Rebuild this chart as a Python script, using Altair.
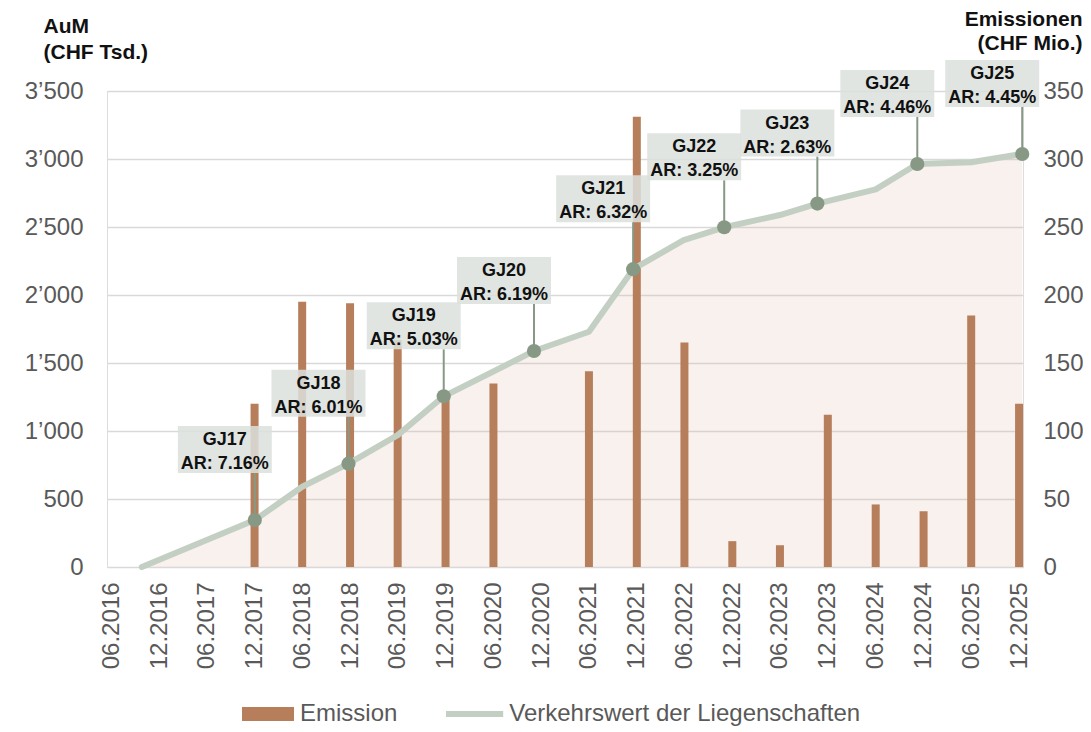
import altair as alt
import pandas as pd

# ---------------- data ----------------
periods = ["06.2016", "12.2016", "06.2017", "12.2017", "06.2018", "12.2018",
           "06.2019", "12.2019", "06.2020", "12.2020", "06.2021", "12.2021",
           "06.2022", "12.2022", "06.2023", "12.2023", "06.2024", "12.2024",
           "06.2025", "12.2025"]
emission = [None, None, None, 120, 195, 194, 167, 125, 135, None, 144, 331,
            165, 19, 16, 112, 46, 41, 185, 120]          # CHF Mio.

aum_dates = ["2016-10-10", "2017-12-16", "2018-06-15", "2018-12-09", "2019-06-15",
             "2019-12-08", "2020-11-17", "2021-06-15", "2021-12-01", "2022-06-12",
             "2022-11-14", "2023-06-15", "2023-11-05", "2024-06-15", "2024-11-21",
             "2025-06-15", "2025-12-27"]
aum = [0, 345, 590, 760, 970, 1255, 1588, 1730, 2190, 2404, 2498, 2588, 2672,
       2777, 2963, 2976, 3037]                          # CHF Tsd.
fy = [None, "GJ17", None, "GJ18", None, "GJ19", "GJ20", None, "GJ21", None,
      "GJ22", None, "GJ23", None, "GJ24", None, "GJ25"]
ar = [None, "7.16%", None, "6.01%", None, "5.03%", "6.19%", None, "6.32%", None,
      "3.25%", None, "2.63%", None, "4.46%", None, "4.45%"]

series_bar = "Emission"
series_line = "Verkehrswert der Liegenschaften"

# ---------------- styling ----------------
FONT = "Liberation Sans"
BAR = "#B67E5A"
LINE = "#C4CFC3"
MARK = "#879985"
AREA = "#D9B4A0"
BOX = "#DCE0DD"
GRID = "#D9D9D9"
LABEL = "#595959"


def period_to_date(p):
    m, y = p.split(".")
    return f"{y}-{m}-15T00:00:00"


bars_df = pd.DataFrame({
    "date": [period_to_date(p) for p in periods],
    "emission": emission,
    "series": series_bar,
}).dropna(subset=["emission"])

aum_df = pd.DataFrame({
    "date": [d + "T00:00:00" for d in aum_dates],
    "aum": aum,
    "fy": fy,
    "ar": ar,
    "series": series_line,
})
mk_df = aum_df.dropna(subset=["fy"]).copy()
mk_df["label"] = mk_df["fy"] + "\n" + "AR: " + mk_df["ar"]

tick_values = [alt.DateTime(year=int(p.split(".")[1]), month=int(p.split(".")[0]), date=15)
               for p in periods]
x_scale = alt.Scale(domain=[alt.DateTime(year=2016, month=5, date=30),
                            alt.DateTime(year=2025, month=12, date=30)],
                    padding=0)
x_axis = alt.Axis(values=tick_values, format="%m.%Y", labelAngle=270,
                  labelFontSize=24, labelColor=LABEL, labelFont=FONT,
                  labelPadding=15, ticks=False, domain=False, grid=False,
                  title=None, labelOverlap=False, labelFlush=False)
x_enc = alt.X("date:T", scale=x_scale, axis=x_axis)

left_scale = alt.Scale(domain=[0, 3500], nice=False, padding=0)
right_scale = alt.Scale(domain=[0, 350], nice=False, padding=0)

left_axis = alt.Axis(
    values=list(range(0, 3501, 500)),
    labelExpr="replace(format(datum.value, ','), ',', '\u2019')",
    labelFontSize=24, labelColor=LABEL, labelFont=FONT, labelPadding=24,
    ticks=False, domain=False, grid=True, gridColor=GRID, gridWidth=1.5,
    title=["AuM", "(CHF Tsd.)"], titleAngle=0, titleAlign="left",
    titleBaseline="top", titleX=-64, titleY=-76, titleFontSize=21,
    titleFontWeight="bold", titleColor="#111111", titleFont=FONT,
    titleLineHeight=26,
)
right_axis = alt.Axis(
    orient="right", values=list(range(0, 351, 50)),
    labelFontSize=24, labelColor=LABEL, labelFont=FONT, labelPadding=20,
    ticks=False, domain=False, grid=False,
    title=["Emissionen", "(CHF Mio.)"], titleAngle=0, titleAlign="right",
    titleBaseline="top", titleX=59, titleY=-83, titleFontSize=21,
    titleFontWeight="bold", titleColor="#111111", titleFont=FONT,
    titleLineHeight=24,
)


def y_left(axis=None):
    if axis is None:
        return alt.Y("aum:Q", scale=left_scale, axis=None)
    return alt.Y("aum:Q", scale=left_scale, axis=axis)


area = alt.Chart(aum_df).mark_area(color=AREA, opacity=0.18).encode(
    x=x_enc, y=y_left(left_axis))

bar_legend = alt.Legend(
    orient="none", legendX=135, legendY=597, direction="horizontal",
    symbolType="M-1,-0.27H1V0.27H-1Z", symbolSize=2704, symbolStrokeWidth=0,
    symbolOpacity=1, labelFontSize=24, labelColor=LABEL, labelFont=FONT,
    labelOffset=6, labelLimit=600,
)
line_legend = alt.Legend(
    orient="none", legendX=338.6, legendY=594, direction="horizontal",
    symbolType="M-1.1,0H1.1", symbolSize=2704, symbolStrokeWidth=6,
    symbolOpacity=1, labelFontSize=24, labelColor=LABEL, labelFont=FONT,
    labelOffset=5.6, labelLimit=600,
)

bars = alt.Chart(bars_df).mark_bar(size=8).encode(
    x=x_enc,
    y=alt.Y("emission:Q", scale=right_scale, axis=right_axis),
    color=alt.Color("series:N", title=None,
                    scale=alt.Scale(domain=[series_bar], range=[BAR]),
                    legend=bar_legend),
)

line = alt.Chart(aum_df).mark_line(strokeWidth=6, strokeJoin="round",
                                   strokeCap="round").encode(
    x=x_enc, y=y_left(),
    stroke=alt.Stroke("series:N", title=None,
                      scale=alt.Scale(domain=[series_line], range=[LINE]),
                      legend=line_legend),
)

stems = alt.Chart(mk_df).mark_rule(color=MARK, strokeWidth=2, y2Offset=-47).encode(
    x=x_enc, y=y_left(), y2=alt.Y2("aum:Q"))

boxes = alt.Chart(mk_df).mark_point(
    shape="M-1,-0.5H1V0.5H-1Z", size=94 * 94, filled=True, color=BOX,
    opacity=0.85, strokeWidth=0, xOffset=-30, yOffset=-70.5,
).encode(x=x_enc, y=y_left())

texts = alt.Chart(mk_df).mark_text(
    font=FONT, fontSize=18, fontWeight="bold", lineBreak="\n", lineHeight=24,
    align="center", baseline="middle", dx=-30, dy=-80, color="#111111",
).encode(x=x_enc, y=y_left(), text="label:N")

markers = alt.Chart(mk_df).mark_circle(size=201, color=MARK, opacity=1).encode(
    x=x_enc, y=y_left())

chart = alt.layer(area, bars, line, stems, boxes, texts, markers).resolve_scale(
    y="independent"
).properties(
    width=916, height=476,
    padding={"left": 99, "top": 83, "right": 60, "bottom": 160},
    autosize=alt.AutoSizeParams(type="none"),
).configure_view(strokeWidth=0).configure(font=FONT)

chart.save("out.html", embed_options={"renderer": "svg", "actions": False})
